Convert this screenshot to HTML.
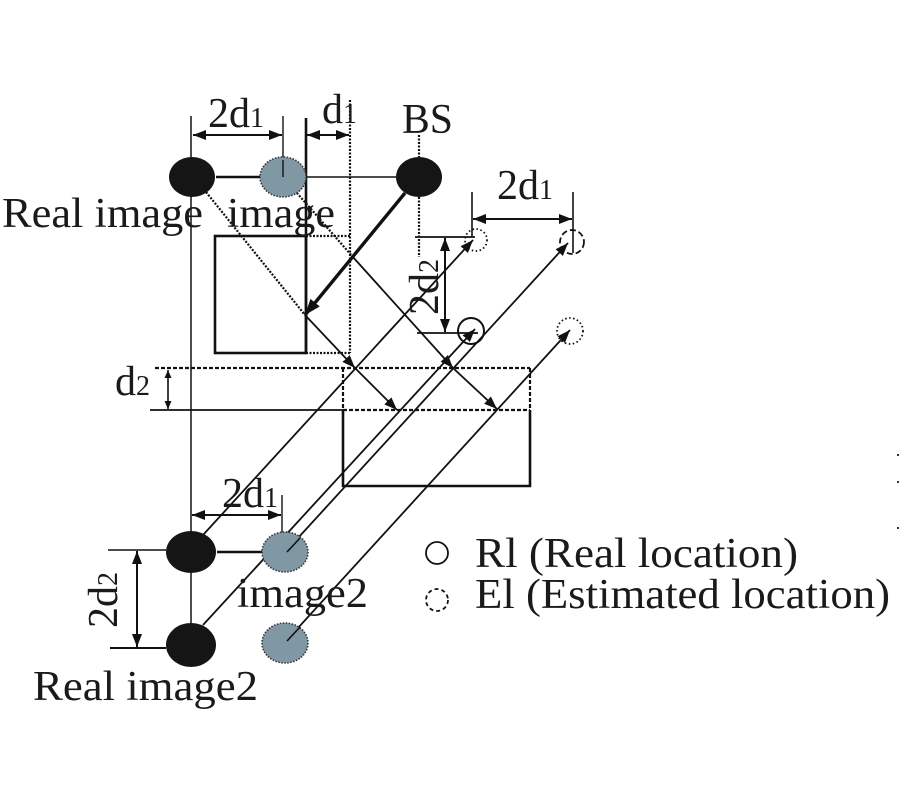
<!DOCTYPE html>
<html><head><meta charset="utf-8"><style>
html,body{margin:0;padding:0;background:#fff;}
svg{display:block;}
text{font-family:"Liberation Serif",serif;fill:#1a1a1a;}
</style></head><body>
<svg width="900" height="800" viewBox="0 0 900 800" xmlns="http://www.w3.org/2000/svg">
<defs>
<marker id="a" markerUnits="userSpaceOnUse" markerWidth="13" markerHeight="10" refX="13" refY="5" orient="auto-start-reverse"><path d="M0,0 L13,5 L0,10 z" fill="#111"/></marker>
<marker id="s" markerUnits="userSpaceOnUse" markerWidth="8" markerHeight="7" refX="8" refY="3.5" orient="auto-start-reverse"><path d="M0,0 L8,3.5 L0,7 z" fill="#111"/></marker>
<marker id="b" markerUnits="userSpaceOnUse" markerWidth="16" markerHeight="12" refX="16" refY="6" orient="auto"><path d="M0,0 L16,6 L0,12 z" fill="#111"/></marker>
</defs>
<g stroke="#111" fill="none">
<line x1="216" y1="177" x2="260" y2="177" stroke-width="2.5"/>
<line x1="306" y1="177" x2="396" y2="177" stroke-width="1.6"/>
<line x1="191" y1="116" x2="191" y2="645" stroke-width="1.5"/>
<line x1="283" y1="116" x2="283" y2="177" stroke-width="1.4"/>
<line x1="306" y1="118" x2="306" y2="353" stroke-width="2.6"/>
<line x1="350" y1="100" x2="350" y2="353" stroke-width="2.2" stroke-dasharray="2 1.5"/>
<line x1="193" y1="135" x2="282" y2="135" stroke-width="2" marker-start="url(#a)" marker-end="url(#a)"/>
<line x1="307" y1="135" x2="349" y2="135" stroke-width="2" marker-start="url(#a)" marker-end="url(#a)"/>
<rect x="215" y="236" width="91" height="117" stroke-width="2.6"/>
<line x1="306" y1="236" x2="350" y2="236" stroke-width="2.2" stroke-dasharray="2 1.5"/>
<line x1="306" y1="353" x2="350" y2="353" stroke-width="2.2" stroke-dasharray="2 1.5"/>
<line x1="419" y1="135" x2="419" y2="157" stroke-width="2.2" stroke-dasharray="2 1.5"/>
<line x1="419" y1="197" x2="419" y2="257" stroke-width="2.2" stroke-dasharray="2 1.5"/>
<line x1="206" y1="192" x2="305" y2="315" stroke-width="2.2" stroke-dasharray="2 1.5"/>
<line x1="283" y1="177" x2="352" y2="256" stroke-width="2.2" stroke-dasharray="2 1.5"/>
<line x1="405" y1="193" x2="305" y2="315" stroke-width="3.4" marker-end="url(#b)"/>
<line x1="305" y1="315" x2="355" y2="368" stroke-width="1.8" marker-end="url(#a)"/>
<line x1="355" y1="368" x2="397" y2="410" stroke-width="1.8" marker-end="url(#a)"/>
<line x1="352" y1="256" x2="453" y2="368" stroke-width="1.8" marker-end="url(#a)"/>
<line x1="453" y1="368" x2="497" y2="409" stroke-width="1.8" marker-end="url(#a)"/>
<line x1="415" y1="237" x2="475" y2="237" stroke-width="1.8"/>
<line x1="417" y1="333" x2="478" y2="333" stroke-width="1.8"/>
<line x1="445" y1="238" x2="445" y2="332" stroke-width="2" marker-start="url(#a)" marker-end="url(#a)"/>
<line x1="472" y1="192" x2="472" y2="237" stroke-width="1.6"/>
<line x1="573" y1="192" x2="573" y2="253" stroke-width="1.6"/>
<line x1="473" y1="219" x2="572" y2="219" stroke-width="2" marker-start="url(#a)" marker-end="url(#a)"/>
<circle cx="476" cy="240" r="11" stroke-width="1.8" stroke-dasharray="1.5 2.5"/>
<circle cx="572" cy="242" r="12" stroke-width="1.8" stroke-dasharray="6 3"/>
<circle cx="471" cy="331" r="13" stroke-width="2"/>
<circle cx="570" cy="331" r="13" stroke-width="1.8" stroke-dasharray="1.5 2.5"/>
<line x1="155" y1="368" x2="530" y2="368" stroke-width="2.2" stroke-dasharray="4 2"/>
<line x1="343" y1="368" x2="343" y2="410" stroke-width="2.2" stroke-dasharray="4 2"/>
<line x1="530" y1="368" x2="530" y2="410" stroke-width="2.2" stroke-dasharray="4 2"/>
<line x1="150" y1="410" x2="343" y2="410" stroke-width="1.8"/>
<line x1="343" y1="410" x2="530" y2="410" stroke-width="2.2" stroke-dasharray="4 2"/>
<polyline points="343,410 343,486 530,486 530,410" stroke-width="2.6"/>
<line x1="168" y1="370" x2="168" y2="409" stroke-width="1.6" marker-start="url(#s)" marker-end="url(#s)"/>
<line x1="203" y1="535" x2="473" y2="240" stroke-width="1.8" marker-end="url(#a)"/>
<line x1="203" y1="625" x2="475" y2="329" stroke-width="1.8" marker-end="url(#a)"/>
<line x1="287" y1="550" x2="568" y2="243" stroke-width="1.8" marker-end="url(#a)"/>
<line x1="287" y1="640" x2="570" y2="330" stroke-width="1.8" marker-end="url(#a)"/>
<line x1="217" y1="552" x2="262" y2="552" stroke-width="2.6"/>
<line x1="108" y1="550" x2="166" y2="550" stroke-width="1.6"/>
<line x1="110" y1="648" x2="166" y2="648" stroke-width="2"/>
<line x1="137" y1="551" x2="137" y2="647" stroke-width="2" marker-start="url(#a)" marker-end="url(#a)"/>
<line x1="282" y1="495" x2="282" y2="552" stroke-width="1.4"/>
<line x1="192" y1="515" x2="281" y2="515" stroke-width="2" marker-start="url(#a)" marker-end="url(#a)"/>
<circle cx="437" cy="553" r="11" stroke-width="1.8"/>
<circle cx="437" cy="600" r="11" stroke-width="1.8" stroke-dasharray="4 3"/>
</g>
<ellipse cx="192" cy="177" rx="23" ry="20" fill="#151515"/>
<ellipse cx="283" cy="177" rx="23" ry="20" fill="#7f98a4" stroke="#333" stroke-width="1.6" stroke-dasharray="1.5 1.5"/>
<line x1="283" y1="160" x2="283" y2="177" stroke="#111" stroke-width="1.4"/>
<ellipse cx="419" cy="177" rx="23" ry="20" fill="#151515"/>
<ellipse cx="191" cy="552" rx="25" ry="21" fill="#151515"/>
<ellipse cx="191" cy="645" rx="25" ry="22" fill="#151515"/>
<ellipse cx="285" cy="552" rx="23" ry="20" fill="#7f98a4" stroke="#333" stroke-width="1.6" stroke-dasharray="1.5 1.5"/>
<ellipse cx="285" cy="643" rx="23" ry="20" fill="#7f98a4" stroke="#333" stroke-width="1.6" stroke-dasharray="1.5 1.5"/>
<line x1="287" y1="552" x2="300" y2="538" stroke="#111" stroke-width="1.6"/>
<line x1="287" y1="641" x2="300" y2="627" stroke="#111" stroke-width="1.6"/>
<g font-size="42">
<text x="208" y="127">2d<tspan font-size="28">1</tspan></text>
<text x="322" y="123">d<tspan font-size="28">1</tspan></text>
<text x="402" y="133" textLength="51" lengthAdjust="spacingAndGlyphs">BS</text>
<text x="2" y="227" textLength="201" lengthAdjust="spacingAndGlyphs">Real image</text>
<text x="227" y="227" textLength="108" lengthAdjust="spacingAndGlyphs">image</text>
<text x="497" y="199">2d<tspan font-size="28">1</tspan></text>
<text transform="translate(438,287) rotate(-90)" text-anchor="middle">2d<tspan font-size="28">2</tspan></text>
<text x="115" y="395">d<tspan font-size="28">2</tspan></text>
<text x="222" y="507">2d<tspan font-size="28">1</tspan></text>
<text transform="translate(117,600) rotate(-90)" text-anchor="middle">2d<tspan font-size="28">2</tspan></text>
<text x="237" y="607" textLength="131" lengthAdjust="spacingAndGlyphs">image2</text>
<text x="33" y="700" textLength="225" lengthAdjust="spacingAndGlyphs">Real image2</text>
<text x="475" y="567" textLength="323" lengthAdjust="spacingAndGlyphs">Rl (Real location)</text>
<text x="475" y="608" textLength="415" lengthAdjust="spacingAndGlyphs">El (Estimated location)</text>
</g>
<rect x="897" y="454" width="2" height="2" fill="#333"/>
<rect x="897" y="481" width="2" height="2" fill="#333"/>
<rect x="897" y="527" width="2" height="2" fill="#333"/>
</svg>
</body></html>
